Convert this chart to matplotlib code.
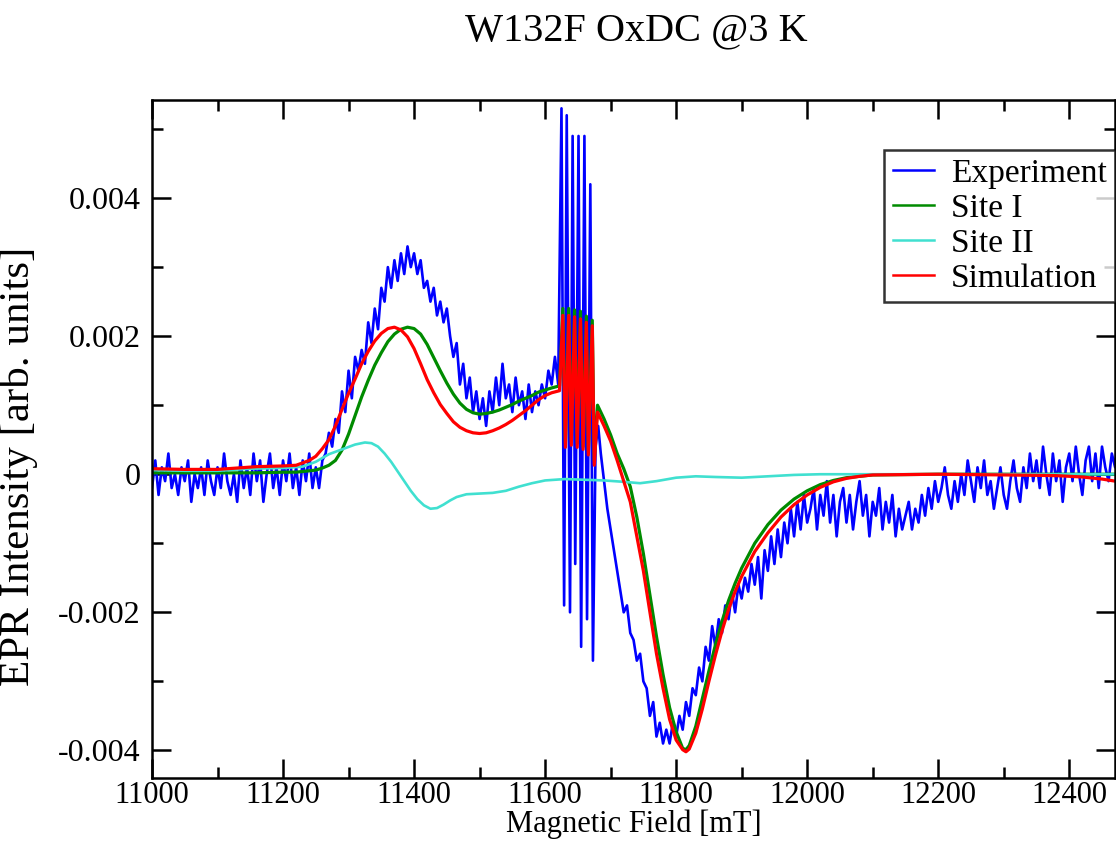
"""W132F OxDC EPR spectrum at 3 K: experiment vs. two-site simulation."""

import matplotlib

matplotlib.use("Agg")
import matplotlib.pyplot as plt
import numpy as np
from matplotlib.ticker import FuncFormatter, MultipleLocator

# ---- data (intensities in units of 1e-4 arb. units) ----
UNIT = 1e-4

# experiment: regular 5 mT sampling, plus the hyperfine sextet read point by point
EXP_FIELD_LOW = np.arange(11000, 11621, 5)
EXP_LOW = [
    -2, 2, -3, 1, -1, 3, -2, 0, -3, 1,
    -1, 2, -4, 0, -2, 1, -3, 2, -1, -3,
    1, -2, 3, -1, -3, 0, -4, 2, -2, 1,
    -3, 3, -1, 2, -4, 0, 3, -2, 1, -3,
    2, -1, 3, -2, 1, -3, 2, -1, 3, -2,
    1,
    -2, 2, 3, 6, 4, 8, 6, 12, 9, 15,
    11, 17, 15, 18, 16, 22, 19, 24, 21, 27,
    25, 30, 27, 31, 28, 32, 29, 33, 30, 32,
    29, 31, 27, 28, 25, 27, 23, 25, 22, 24,
    20, 17, 19, 13, 16, 11, 14, 9, 12, 8,
    11, 7, 12, 9, 14, 10, 16, 11, 13, 9,
    14, 10, 12, 8, 13, 9, 12, 10, 13, 11,
    15, 13, 17, 13,
]
EXP_FIELD_HF = [11625, 11629, 11633, 11638, 11642, 11646, 11651,
                11655, 11660, 11664, 11669, 11673, 11677, 11681]
EXP_HF = [53, -19, 52, -20, 49, -13, 49, -25, 49, -21, 42, -27, 4, 7]
EXP_FIELD_HIGH = np.arange(11685, 12476, 5)
EXP_HIGH = [
    3, -1, -5, -8, -11, -14, -17, -20, -19, -23,
    -24, -27, -26, -30, -31, -35, -33, -38, -36, -39,
    -37, -39, -36, -38, -35, -37, -33, -35, -31, -32,
    -28, -30, -25, -27, -22, -25, -21, -23, -19, -21,
    -17, -20, -16, -18, -15, -17, -13, -16, -12, -18,
    -11, -14, -9, -13, -8, -12, -7, -10, -5, -9,
    -4, -8, -3, -7, -5, -2, -8, -3, -6, -1,
    -7, -3, -9, -4, -2, -7, -3, -8, -4, -1,
    -6, -3, -9, -4, -6, -2, -8, -4, -7, -3,
    -9, -5, -8, -6, -4, -8, -5, -7, -3, -6,
    -2, -5, -1, -4, -2, 1, -3, -5, -1, -4,
    0, -3, 2, -1, -4, 1, -2, 2, -3, -1,
    -5, -2, 1, -3, -5, -1, 2, -2, -4, 1,
    -2, 3, -1, 2, -2, 4, 0, -3, 3, -1,
    2, -4, 1, 3, -1, 4, 0, -3, 2, 4,
    -1, 3, -2, 4, 1, -1, 3, 1, 7,
]

# simulated components (Site I and total simulation share a grid)
FIT_FIELD = [
    11000, 11050, 11100, 11130, 11160, 11200, 11220, 11240,
    11250, 11260, 11270, 11280, 11290, 11300, 11310, 11320, 11330, 11340,
    11350, 11360, 11370, 11380, 11390, 11400, 11410, 11420, 11430, 11440,
    11450, 11460, 11470, 11480, 11490, 11500, 11510, 11520, 11530, 11540,
    11550, 11560, 11570, 11580, 11590, 11600, 11610,
    11622, 11627, 11631, 11636, 11640, 11645, 11649, 11654, 11658, 11663,
    11666, 11672, 11675, 11680,
    11690, 11700, 11710, 11720, 11730, 11740, 11750, 11760, 11770, 11780,
    11790, 11800, 11810, 11815, 11820,
    11830, 11840, 11850, 11860, 11870, 11880, 11890, 11900,
    11920, 11940, 11960, 11980, 12000, 12020, 12040, 12060, 12080, 12100,
    12200, 12300, 12380, 12420, 12450, 12470,
]
SITE1 = [
    0.2, 0.2, 0.2, 0.2, 0.2, 0.3, 0.3, 0.5,
    0.6, 0.9, 1.3, 2.0, 3.5, 5.8, 8.5, 11.2, 13.6, 15.8,
    17.6, 19.2, 20.3, 21.0, 21.3, 21.1, 20.3, 18.8, 16.9, 15.0,
    13.2, 11.6, 10.3, 9.4, 8.9, 8.7, 8.8, 9.0, 9.3, 9.7,
    10.1, 10.6, 11.0, 11.4, 11.9, 12.2, 12.5,
    12.8, 24.0, 4.5, 24.0, 4.8, 23.8, 4.5, 23.6, 4.0, 22.9,
    3.3, 22.3, 2.0, 10.0,
    8.0, 5.7, 3.0, 0.8, -1.8, -6.2, -11.5, -17.5, -23.5, -29.0,
    -33.8, -37.3, -39.7, -39.9, -39.3,
    -36.5, -32.5, -28.5, -24.7, -21.3, -18.3, -15.8, -13.6,
    -10.0, -7.3, -5.2, -3.6, -2.4, -1.5, -0.9, -0.5, -0.3, -0.1,
    0, 0, 0, 0, 0, 0,
]
SIMULATION = [
    0.8, 0.7, 0.7, 0.9, 1.1, 1.2, 1.3, 2.0,
    2.6, 3.7, 5.0, 7.0, 9.4, 11.7, 13.8, 16.0, 17.8, 19.3,
    20.4, 21.1, 21.3, 20.9, 19.9, 18.2, 16.0, 13.7, 11.8, 10.1,
    8.8, 7.6, 6.8, 6.3, 6.0, 5.9, 6.0, 6.3, 6.7, 7.2,
    7.8, 8.5, 9.2, 10.0, 10.8, 11.4, 11.8,
    12.1, 23.0, 3.9, 23.0, 4.2, 22.8, 3.9, 22.5, 3.6, 22.0,
    2.8, 21.5, 1.3, 9.0,
    7.0, 4.8, 2.0, -1.0, -4.0, -9.0, -14.0, -20.0, -26.0, -31.0,
    -35.5, -38.5, -39.9, -40.2, -39.8,
    -37.5, -34.0, -30.0, -26.2, -22.7, -19.6, -17.0, -14.8,
    -11.2, -8.5, -6.2, -4.4, -3.0, -1.9, -1.1, -0.6, -0.3, -0.1,
    0, -0.1, -0.2, -0.4, -0.7, -1.0,
]

SITE2_FIELD = [
    11000, 11050, 11100, 11150, 11200, 11230, 11250, 11270, 11290, 11310,
    11325, 11335, 11345, 11355, 11365, 11375, 11385, 11395, 11405, 11415,
    11425, 11435, 11445, 11455, 11465, 11480, 11500, 11520, 11540, 11560,
    11580, 11600, 11630, 11660, 11690, 11720, 11745, 11770, 11800, 11830,
    11860, 11900, 11940, 11980, 12020, 12470,
]
SITE2 = [
    0.6, 0.5, 0.5, 0.8, 0.9, 1.1, 1.8, 2.9, 3.6, 4.3,
    4.6, 4.5, 4.0, 3.0, 1.8, 0.4, -1.0, -2.4, -3.6, -4.5,
    -5.0, -4.9, -4.4, -3.8, -3.3, -2.9, -2.8, -2.7, -2.4, -1.8,
    -1.3, -0.9, -0.7, -0.8, -0.9, -1.1, -1.3, -1.0, -0.5, -0.3,
    -0.4, -0.5, -0.3, -0.1, 0, 0,
]

TITLE = "W132F OxDC @3 K"
XLABEL = "Magnetic Field [mT]"
YLABEL = "EPR Intensity [arb. units]"


def main():
    plt.rcParams["font.family"] = ["Liberation Serif", "DejaVu Serif"]
    plt.rcParams["axes.unicode_minus"] = False

    exp_field = np.concatenate([EXP_FIELD_LOW, EXP_FIELD_HF, EXP_FIELD_HIGH])
    exp_val = np.array(EXP_LOW + EXP_HF + EXP_HIGH, dtype=float) * UNIT

    fig = plt.figure(figsize=(11.16, 8.5), dpi=100)
    ax = fig.add_axes([0.1362, 0.0847, 0.8630, 0.7976])

    ax.plot(exp_field, exp_val, color="#0000ff", lw=1.9, label="Experiment")
    ax.plot(FIT_FIELD, np.array(SITE1) * UNIT, color="#008b00", lw=2.3, label="Site I")
    ax.plot(SITE2_FIELD, np.array(SITE2) * UNIT, color="#40e0d0", lw=1.9, label="Site II")
    ax.plot(FIT_FIELD, np.array(SIMULATION) * UNIT, color="#ff0000", lw=2.3,
            label="Simulation")

    ax.set_xlim(11000, 12470)
    ax.set_ylim(-0.0044, 0.00542)
    ax.xaxis.set_major_locator(MultipleLocator(200))
    ax.xaxis.set_minor_locator(MultipleLocator(100))
    ax.yaxis.set_major_locator(MultipleLocator(0.002))
    ax.yaxis.set_minor_locator(MultipleLocator(0.001))
    ax.yaxis.set_major_formatter(FuncFormatter(lambda v, _: "%g" % round(v, 6)))

    for sp in ax.spines.values():
        sp.set_linewidth(1.8)
    ax.tick_params(which="both", direction="in", top=True, right=True, width=1.8)
    ax.tick_params(which="major", length=14)
    ax.tick_params(which="minor", length=8)
    ax.tick_params(axis="x", which="major", labelsize=22, pad=2)
    ax.tick_params(axis="y", which="major", labelsize=23, pad=8)

    ax.set_xlabel(XLABEL, fontsize=22, labelpad=0)
    ax.set_ylabel(YLABEL, fontsize=31, labelpad=4)
    ax.yaxis.set_label_coords(-0.118, 0.46)
    fig.suptitle(TITLE, fontsize=29, x=0.57, y=0.985)

    leg = ax.legend(loc="upper right", bbox_to_anchor=(1.0, 0.926),
                    borderaxespad=0, fontsize=24, frameon=True, fancybox=False,
                    handlelength=1.25, handletextpad=0.5, labelspacing=0.13,
                    borderpad=0.25)
    leg.get_frame().set_edgecolor("black")
    leg.get_frame().set_linewidth(1.8)
    for line in leg.get_lines():
        line.set_linewidth(1.8)

    fig.savefig("out.png", dpi=100, facecolor="white")


if __name__ == "__main__":
    main()
